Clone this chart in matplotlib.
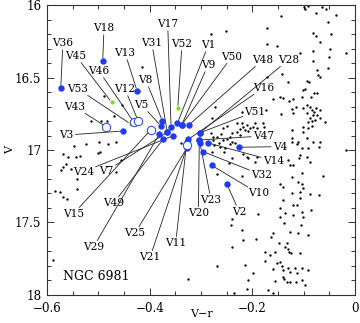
import matplotlib
matplotlib.use("Agg")
import matplotlib.pyplot as plt
from matplotlib.ticker import MultipleLocator

# ---------------- data ----------------
field_vr = [-0.0993, -0.0974, -0.0921, -0.0648, -0.0565, -0.0759, -0.0376, -0.1447, -0.0531, -0.1720,
            -0.0824, -0.0759, -0.0467, -0.0681, -0.1720, -0.1525, -0.0812, -0.0487, -0.0175, -0.1071,
            -0.0500, -0.0824, -0.0746, -0.0520, -0.1428, -0.0715, -0.0681, -0.1720, -0.1299, -0.0941,
            -0.0890, -0.1019, -0.0974, -0.0798, -0.0734, -0.1038, -0.1461, -0.1396, -0.1202, -0.0863,
            -0.1603, -0.2811, -0.2519, -0.1280, -0.1733, -0.2211, -0.1447, -0.1202, -0.1233, -0.1149,
            -0.1007, -0.0941, -0.0876, -0.0843, -0.0798, -0.0759, -0.0681, -0.0734, -0.0812, -0.0941,
            -0.0876, -0.0843, -0.0909, -0.0779, -0.0681, -0.0584, -0.1007, -0.0843, -0.0909, -0.1233,
            -0.1019, -0.2176, -0.2109, -0.2045, -0.1948, -0.1798, -0.1772, -0.1233, -0.0941, -0.1233,
            -0.1135, -0.1104, -0.0812, -0.0681, -0.0695, -0.1038, -0.0909, -0.0175, -0.1071, -0.0941,
            -0.0876, -0.1085, -0.1299, -0.1266, -0.1202, -0.1038, -0.1233, -0.0617, -0.1104, -0.1038,
            -0.1007, -0.1461, -0.1396, -0.1071, -0.1233, -0.2176, -0.2078, -0.2207, -0.2143, -0.2078,
            -0.1915, -0.2565, -0.2402, -0.2304, -0.2240, -0.2760, -0.2694, -0.2499, -0.2630, -0.2532,
            -0.2435, -0.2402, -0.2337, -0.1915, -0.2791, -0.2727, -0.2791, -0.2811, -0.2616, -0.2772,
            -0.2655, -0.2577, -0.2747, -0.3395, -0.2207, -0.2304, -0.2499, -0.1981, -0.2240, -0.2435,
            -0.2109, -0.2402, -0.1948, -0.2552, -0.2448, -0.2698, -0.2402, -0.2421, -0.2207, -0.2187,
            -0.2402, -0.2688, -0.2143, -0.3247, -0.2078, -0.2351, -0.2109, -0.1938, -0.1893, -0.0876,
            -0.0695, -0.1071, -0.1396, -0.1202, -0.1124, -0.0863, -0.1461, -0.1363, -0.1461, -0.1202,
            -0.1038, -0.1007, -0.1057, -0.1383, -0.1591, -0.1642, -0.1266, -0.1104, -0.0909, -0.1474,
            -0.1330, -0.1363, -0.1299, -0.1753, -0.1656, -0.1558, -0.1280, -0.1252, -0.1071, -0.1753,
            -0.1461, -0.1525, -0.1428, -0.1591, -0.1396, -0.1299, -0.1169, -0.1038, -0.0909, -0.1266,
            -0.1135, -0.1396, -0.1330, -0.1266, -0.1383, -0.1149, -0.1038, -0.0974, -0.1558, -0.1981,
            -0.1689, -0.1603, -0.4155, -0.4890, -0.4545, -0.4689, -0.5149, -0.4954, -0.4837, -0.5474,
            -0.5240, -0.4981, -0.4806, -0.4650, -0.5694, -0.5585, -0.5357, -0.5435, -0.5001, -0.4962,
            -0.5682, -0.5718, -0.5527, -0.4665, -0.4554, -0.5416, -0.5410, -0.5850, -0.5741, -0.5694,
            -0.5610, -0.5883, -0.5636]
field_v = [16.012, 16.030, 16.007, 16.012, 16.028, 16.053, 16.069, 16.076, 16.115, 16.161,
           16.191, 16.212, 16.202, 16.257, 16.271, 16.283, 16.317, 16.306, 16.329, 16.329,
           16.361, 16.386, 16.448, 16.437, 16.476, 16.483, 16.494, 16.494, 16.529, 16.522,
           16.529, 16.586, 16.581, 16.605, 16.609, 16.632, 16.632, 16.643, 16.648, 16.637,
           16.650, 16.202, 16.177, 16.662, 16.724, 16.736, 16.754, 16.747, 16.717, 16.701,
           16.712, 16.690, 16.701, 16.724, 16.736, 16.712, 16.724, 16.759, 16.759, 16.747,
           16.781, 16.800, 16.805, 16.793, 16.781, 16.805, 16.839, 16.832, 16.850, 16.862,
           16.874, 16.839, 16.828, 16.850, 16.816, 16.816, 16.839, 16.919, 16.919, 16.943,
           16.961, 16.947, 16.947, 16.947, 16.977, 16.984, 16.988, 17.003, 17.034, 17.046,
           17.081, 17.057, 17.069, 17.103, 17.103, 17.161, 17.184, 17.177, 17.223, 17.237,
           17.260, 17.237, 17.253, 17.288, 17.299, 17.030, 17.057, 17.176, 16.862, 16.867,
           16.850, 16.850, 16.885, 16.874, 16.897, 16.908, 16.912, 16.926, 16.977, 16.988,
           16.959, 16.943, 16.954, 17.046, 17.012, 16.706, 16.781, 16.881, 16.892, 16.931,
           16.950, 16.931, 16.966, 16.950, 16.816, 16.816, 16.834, 16.839, 16.857, 16.908,
           17.046, 17.057, 17.081, 17.012, 17.088, 17.166, 17.478, 17.517, 17.552, 17.621,
           17.666, 17.800, 17.793, 17.892, 17.894, 17.984, 17.959, 17.614, 17.443, 17.303,
           17.310, 17.333, 17.345, 17.379, 17.379, 17.414, 17.402, 17.437, 17.460, 17.448,
           17.426, 17.460, 17.517, 17.506, 17.574, 17.598, 17.563, 17.574, 17.586, 17.643,
           17.643, 17.667, 17.685, 17.701, 17.724, 17.706, 17.701, 17.712, 17.708, 17.763,
           17.770, 17.781, 17.800, 17.823, 17.828, 17.816, 17.816, 17.816, 17.828, 17.839,
           17.850, 17.874, 17.908, 17.908, 17.893, 17.908, 17.897, 17.931, 17.901, 17.846,
           17.966, 17.988, 16.426, 16.626, 16.690, 16.766, 16.798, 16.798, 16.803, 16.974,
           16.957, 16.948, 16.957, 16.943, 17.028, 17.048, 17.038, 17.050, 17.023, 17.012,
           17.114, 17.138, 17.133, 17.154, 17.071, 17.202, 17.271, 17.281, 17.288, 17.322,
           17.338, 17.759, 17.097]

var_names = ["V36", "V18", "V45", "V13", "V46", "V53", "V12", "V43", "V3", "V8",
             "V5", "V31", "V17", "V52", "V1", "V9", "V50", "V48", "V28", "V16",
             "V51", "V47", "V4", "V14", "V32", "V10", "V2", "V23", "V20", "V11",
             "V21", "V25", "V29", "V15", "V49", "V7", "V24"]
var_vr = [-0.5733, -0.4915, -0.4740, -0.4247, -0.4315, -0.4370, -0.4227, -0.4850, -0.4514, -0.3754,
          -0.3785, -0.3656, -0.3584, -0.3454, -0.3461, -0.3376, -0.3376, -0.3234, -0.3019, -0.3247,
          -0.3019, -0.3033, -0.2259, -0.2873, -0.2955, -0.2791, -0.2499, -0.3019, -0.3033, -0.3278,
          -0.3265, -0.3278, -0.3812, -0.3980, -0.3734, -0.3656, -0.3539]
var_v = [16.574, 16.386, 16.672, 16.591, 16.805, 16.821, 16.798, 16.839, 16.869, 16.798,
         16.832, 16.878, 16.839, 16.712, 16.816, 16.826, 16.826, 16.826, 16.881, 16.926,
         16.881, 16.931, 16.981, 16.950, 17.012, 17.106, 17.234, 16.954, 16.931, 16.942,
         16.968, 16.988, 16.890, 16.862, 16.924, 16.878, 16.901]
var_kind = ["b", "b", "g", "b", "o", "g", "o", "o", "b", "b",
            "b", "b", "b", "g", "b", "b", "b", "b", "b", "b",
            "b", "b", "b", "b", "b", "b", "b", "b", "b", "b",
            "o", "b", "b", "o", "b", "b", "b"]

# label text positions (layout)
lab_x = [-0.569, -0.489, -0.5435, -0.448, -0.4987, -0.5396, -0.448, -0.5455, -0.562, -0.4077,
         -0.4155, -0.396, -0.3649, -0.337, -0.2858, -0.2864, -0.2402, -0.1798, -0.1299, -0.1786,
         -0.1948, -0.1786, -0.1461, -0.1591, -0.1817, -0.1883, -0.2254, -0.2805, -0.3052, -0.3493,
         -0.3993, -0.4286, -0.5098, -0.5488, -0.4708, -0.4837, -0.5293]
lab_y = [16.262, 16.159, 16.352, 16.331, 16.455, 16.579, 16.579, 16.703, 16.897, 16.517,
         16.690, 16.262, 16.131, 16.269, 16.276, 16.414, 16.357, 16.379, 16.379, 16.572,
         16.736, 16.903, 16.977, 17.074, 17.172, 17.299, 17.426, 17.345, 17.437, 17.643,
         17.740, 17.574, 17.671, 17.441, 17.368, 17.143, 17.150]

cluster_name = "NGC 6981"
xlabel = "V\u2212r"
ylabel = "V"

# ---------------- plot ----------------
plt.rcParams['font.family'] = ['DejaVu Serif']
plt.rcParams['axes.unicode_minus'] = True

fig = plt.figure(figsize=(3.6, 3.23), dpi=100)
ax = fig.add_axes([0.1306, 0.0867, 0.8556, 0.8978])

BLUE = "#1f3cf2"
GREEN = "#6fe01a"

ax.plot(field_vr, field_v, 'o', ms=1.7, color='black', mec='none', zorder=2)

for name, x, y, k, lx, ly in zip(var_names, var_vr, var_v, var_kind, lab_x, lab_y):
    ax.annotate(name, xy=(x, y), xytext=(lx, ly), textcoords='data',
                ha='center', va='center', fontsize=7.6,
                bbox=dict(boxstyle='square,pad=0.1', fc='none', ec='none'),
                arrowprops=dict(arrowstyle='-', color='#222222', lw=0.6,
                                shrinkA=0.5, shrinkB=2.0),
                zorder=3)

for x, y, k in zip(var_vr, var_v, var_kind):
    if k == "b":
        ax.plot(x, y, 'o', ms=4.6, color=BLUE, mec='none', zorder=5)
    elif k == "g":
        ax.plot(x, y, 'o', ms=3.0, color=GREEN, mec='none', zorder=5)
    else:
        ax.plot(x, y, 'o', ms=6.0, mfc='white', mec=BLUE, mew=0.7, zorder=6)

ax.text(-0.5688, 17.874, cluster_name, ha='left', va='center', fontsize=9)

ax.set_xlim(-0.6, 0.0)
ax.set_ylim(18.0, 16.0)
ax.xaxis.set_minor_locator(MultipleLocator(0.05))
ax.yaxis.set_minor_locator(MultipleLocator(0.1))
ax.set_xticks([-0.6, -0.4, -0.2, 0.0])
ax.set_xticklabels(["\u22120.6", "\u22120.4", "\u22120.2", "0"])
ax.set_yticks([16, 16.5, 17, 17.5, 18])
ax.set_yticklabels(["16", "16.5", "17", "17.5", "18"])
ax.tick_params(which='both', direction='in', top=True, right=True, labelsize=8.6,
               width=0.7, color='#333333')
ax.tick_params(which='major', length=5)
ax.tick_params(which='minor', length=2.8)
ax.tick_params(axis='x', which='major', pad=4.8)
ax.tick_params(axis='y', which='major', pad=4.2)
for s in ax.spines.values():
    s.set_linewidth(0.8)
    s.set_color('#333333')

ax.set_xlabel(xlabel, fontsize=8)
ax.set_ylabel(ylabel, fontsize=8)
ax.xaxis.set_label_coords(0.5, -0.05)
ax.yaxis.set_label_coords(-0.105, 0.5)

fig.savefig("out.png", dpi=100)
